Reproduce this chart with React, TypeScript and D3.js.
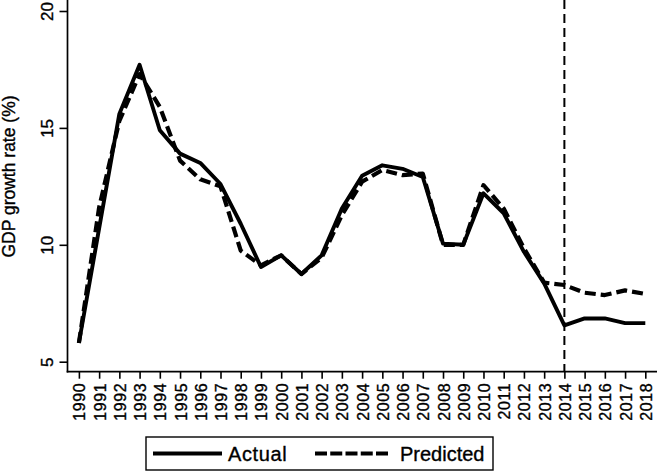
import React, { useEffect, useRef } from 'react';
import * as d3 from 'd3';

// values
const years = [1990, 1991, 1992, 1993, 1994, 1995, 1996, 1997, 1998, 1999, 2000, 2001, 2002, 2003, 2004,
    2005, 2006, 2007, 2008, 2009, 2010, 2011, 2012, 2013, 2014, 2015, 2016, 2017, 2018];
const actual = [5.8, 10.7, 15.6, 17.7, 14.9, 13.9, 13.5, 12.6, 10.9, 9.05, 9.55, 8.75, 9.55, 11.55, 12.95,
    13.4, 13.25, 12.9, 10.05, 10.0, 12.2, 11.35, 9.7, 8.35, 6.55, 6.85, 6.85, 6.65, 6.65];
const predicted = [5.8, 11.6, 15.3, 17.3, 15.9, 13.6, 12.8, 12.5, 9.75, 9.12, 9.55, 8.75, 9.45, 11.27, 12.7,
    13.2, 12.98, 13.05, 10.0, 10.0, 12.55, 11.55, 9.85, 8.38, 8.28, 7.95, 7.85, 8.05, 7.9];
const yTicks = [5, 10, 15, 20];
const cutYear = 2014;
const seriesNames = ['Actual', 'Predicted'];

const W = 657;
const H = 472;
const font = '"Liberation Sans", Arial, Helvetica, sans-serif';

const App: React.FC = () => {
    const svgRef = useRef<SVGSVGElement>(null);

    useEffect(() => {
        document.body.style.margin = '0';
        const svg = d3.select(svgRef.current);
        svg.selectAll('*').remove();

        const axisX = 67.5;
        const axisY = 371.7;

        const x = d3.scaleLinear().domain([1990, 2018]).range([78.9, 645.3]);
        const y = d3.scaleLinear().domain([5, 20]).range([361.7, 11]);

        const g = svg.append('g');

        // y axis
        const yAxis = g.append('g')
            .attr('transform', `translate(${axisX},0)`)
            .call(d3.axisLeft(y).tickValues(yTicks).tickSize(8).tickSizeOuter(0));
        yAxis.select('.domain').remove();
        yAxis.selectAll('.tick line').attr('stroke', '#000').attr('stroke-width', 1.6);
        yAxis.selectAll('.tick text')
            .attr('x', null).attr('dy', null)
            .attr('transform', 'translate(-14.5,0) rotate(-90)')
            .attr('text-anchor', 'middle')
            .style('font-family', font)
            .style('font-size', '17px')
            .attr('fill', '#000')
            .attr('stroke', '#000').attr('stroke-width', 0.35);

        // x axis
        const xAxis = g.append('g')
            .attr('transform', `translate(0,${axisY})`)
            .call(d3.axisBottom(x).tickValues(years).tickFormat(d3.format('d')).tickSize(7).tickSizeOuter(0));
        xAxis.select('.domain').remove();
        xAxis.selectAll('.tick line').attr('stroke', '#000').attr('stroke-width', 1.6);
        xAxis.selectAll('.tick text')
            .attr('y', null).attr('dy', null)
            .attr('transform', 'translate(6,11) rotate(-90)')
            .attr('text-anchor', 'end')
            .style('font-family', font)
            .style('font-size', '16px')
            .style('letter-spacing', '0.6px')
            .attr('fill', '#000')
            .attr('stroke', '#000').attr('stroke-width', 0.35);

        g.append('line')
            .attr('x1', axisX).attr('x2', axisX).attr('y1', 0).attr('y2', axisY + 0.8)
            .attr('stroke', '#000').attr('stroke-width', 1.7);
        g.append('line')
            .attr('x1', axisX - 0.8).attr('x2', W).attr('y1', axisY).attr('y2', axisY)
            .attr('stroke', '#000').attr('stroke-width', 1.7);

        // forecast start marker
        g.append('line')
            .attr('x1', x(cutYear)).attr('x2', x(cutYear)).attr('y1', 0).attr('y2', axisY)
            .attr('stroke', '#000').attr('stroke-width', 2).attr('stroke-dasharray', '9,5');

        const line = d3.line<number>()
            .x((_, i) => x(years[i]))
            .y(d => y(d));

        g.append('path')
            .attr('d', line(predicted))
            .attr('fill', 'none').attr('stroke', '#000').attr('stroke-width', 4.2)
            .attr('stroke-dasharray', '11,5').attr('stroke-linejoin', 'round');
        g.append('path')
            .attr('d', line(actual))
            .attr('fill', 'none').attr('stroke', '#000').attr('stroke-width', 3.9)
            .attr('stroke-linejoin', 'round');

        // legend
        const lg = svg.append('g');
        lg.append('rect')
            .attr('x', 146).attr('y', 437).attr('width', 347).attr('height', 33)
            .attr('fill', '#fff').attr('stroke', '#000').attr('stroke-width', 1.4);
        lg.append('line')
            .attr('x1', 153).attr('x2', 222).attr('y1', 453.5).attr('y2', 453.5)
            .attr('stroke', '#000').attr('stroke-width', 4.2);
        lg.append('line')
            .attr('x1', 315).attr('x2', 388).attr('y1', 453.5).attr('y2', 453.5)
            .attr('stroke', '#000').attr('stroke-width', 4.2).attr('stroke-dasharray', '12,3.25');
        lg.selectAll('text.lab')
            .data(seriesNames)
            .enter().append('text')
            .attr('x', (_, i) => (i === 0 ? 228 : 400))
            .attr('y', 461)
            .style('font-family', font)
            .style('font-size', '20px')
            .style('letter-spacing', (_, i) => (i === 0 ? '0.6px' : '0px'))
            .attr('fill', '#000')
            .attr('stroke', '#000').attr('stroke-width', 0.35)
            .text(d => d);

        // y title
        svg.append('text')
            .attr('transform', 'translate(15,176.5) rotate(-90)')
            .attr('text-anchor', 'middle')
            .style('font-family', font)
            .style('font-size', '17.5px')
            .attr('fill', '#000')
            .attr('stroke', '#000').attr('stroke-width', 0.35)
            .text('GDP growth rate (%)');
    }, []);

    return (
        <svg ref={svgRef} width={W} height={H} style={{ display: 'block', background: '#fff' }}></svg>
    );
};

export default App;
